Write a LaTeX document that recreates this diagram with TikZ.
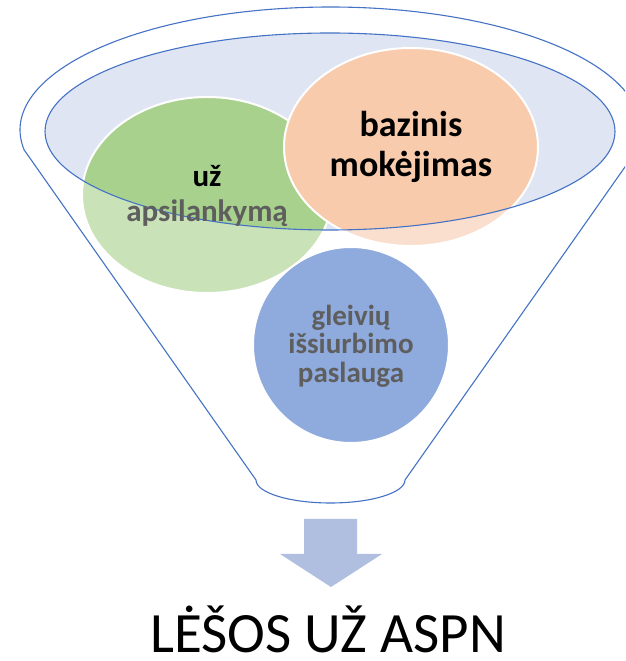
\documentclass[tikz,border=0pt]{standalone}
\usepackage{fontspec}
\setmainfont{Carlito}
\definecolor{outlineblue}{HTML}{4472C4}
\definecolor{innerfill}{HTML}{DFE5F2}
\definecolor{greenin}{HTML}{A9D18E}
\definecolor{greenout}{HTML}{C9E2B8}
\definecolor{orangein}{HTML}{F8CBAD}
\definecolor{orangeout}{HTML}{FADFCE}
\definecolor{bluec}{HTML}{8FAADC}
\definecolor{arrowc}{HTML}{B0BEE0}
\definecolor{graytext}{HTML}{5E5E5E}
\begin{document}
\begin{tikzpicture}[x=1pt,y=1pt,
  outl/.style={draw=outlineblue, line width=1.1pt, line join=round},
  bub/.style={draw=white, line width=2pt},
  lbl/.style={align=center, inner sep=0pt, font=\bfseries}]
\useasboundingbox (0,0) rectangle (625,661);
\begin{scope}
\clip (0,0) rectangle (625,661);
% inner ellipse (mouth of the funnel)
\fill[innerfill] (330,529.5) ellipse [x radius=285, y radius=98.5];
% green bubble
\fill[greenout] (207,466) ellipse [x radius=125, y radius=98];
\begin{scope}
  \clip (330,529.5) ellipse [x radius=285, y radius=98.5];
  \fill[greenin] (207,466) ellipse [x radius=125, y radius=98];
\end{scope}
\draw[bub] (207,466) ellipse [x radius=125, y radius=98];
% orange bubble
\fill[orangeout] (411,514) ellipse [x radius=127, y radius=99];
\begin{scope}
  \clip (330,529.5) ellipse [x radius=285, y radius=98.5];
  \fill[orangein] (411,514) ellipse [x radius=127, y radius=99];
\end{scope}
\draw[bub] (411,514) ellipse [x radius=127, y radius=99];
% blue bubble
\fill[bluec] (351,316) circle [radius=98];
\draw[bub] (351,316) circle [radius=98];
% inner ellipse outline
\draw[outl] (330,529.5) ellipse [x radius=285, y radius=98.5];
% funnel outline
\draw[outl] (24.2,511) arc[start angle=189.36, end angle=-9.36, x radius=310.5, y radius=123]
  -- (405,181) arc[start angle=0, end angle=-180, x radius=74.5, y radius=23] -- cycle;
\end{scope}
% labels
\node[lbl, font=\bfseries\fontsize{36}{40}\selectfont] (base) at (411,514) {bazinis\\mokėjimas};
\node[lbl, font=\bfseries\fontsize{31}{35}\selectfont] (visit) at (207,465) {už\\\textcolor{graytext}{apsilankymą}};
\node[lbl, font=\bfseries\fontsize{29}{28.5}\selectfont, text=graytext] (suction) at (351,315) {gleivių\\išsiurbimo\\paslauga};
% arrow
\fill[arrowc] (304,142) -- (357,142) -- (357,107) -- (382,107) -- (331,74) -- (280,107) -- (304,107) -- cycle;
\node[anchor=base, inner sep=0pt, text depth=0pt, font=\fontsize{57}{60}\selectfont] (total) at (328,9) {LĖŠOS UŽ ASPN};
\end{tikzpicture}
\end{document}
